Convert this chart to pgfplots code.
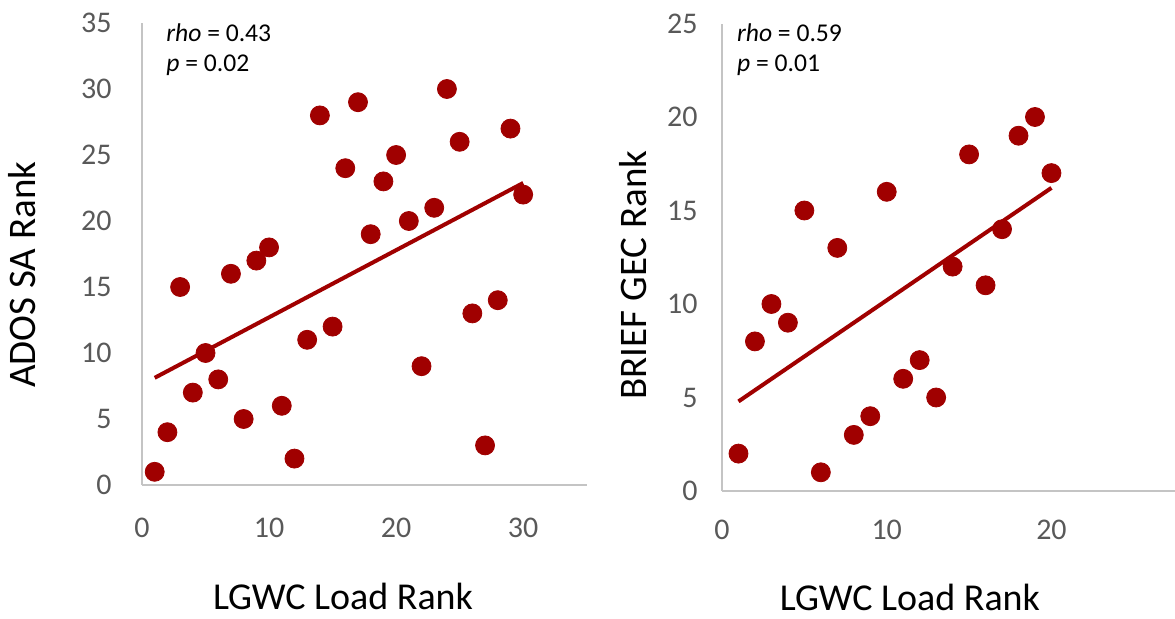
\documentclass[border=0pt]{standalone}
\usepackage{fontspec}
\setmainfont{Carlito}
\usepackage{pgfplots}
\pgfplotsset{compat=1.18}
\definecolor{dred}{HTML}{A00000}
\definecolor{axgray}{HTML}{C4C4C4}
\definecolor{tickgray}{HTML}{595959}
\pgfplotsset{mystyle/.style={
  scale only axis, anchor=south west,
  axis x line*=bottom, axis y line*=left,
  axis line style={axgray, line width=1.2bp, -},
  major tick length=0pt,
  tick label style={font=\fontsize{15bp}{16bp}\selectfont, color=tickgray, inner sep=0pt},
  /pgf/number format/assume math mode=true,
  yticklabel style={anchor=east, xshift=-#1},
  label style={color=black, inner sep=0pt},
  clip=false,
}}
\begin{document}
\begin{tikzpicture}
\path[use as bounding box] (0,0) rectangle (587.5bp,309.5bp);
\begin{axis}[mystyle=15bp,
  at={(71bp,67bp)}, width=222.35bp, height=231bp,
  xmin=0, xmax=35, ymin=0, ymax=35,
  xtick={0,10,20,30}, ytick={0,5,...,35},
  xticklabel style={anchor=center, yshift=-21.5bp},
  xlabel={LGWC Load Rank}, ylabel={ADOS SA Rank},
  xlabel style={at={(axis description cs:0.452,-0.242)}, anchor=center, font=\fontsize{19bp}{22bp}\selectfont},
  ylabel style={at={(axis description cs:-0.269,0.455)}, anchor=center, font=\fontsize{19.5bp}{22bp}\selectfont},
]
\addplot[only marks, mark=*, mark size=4.75bp, mark options={draw=dred, fill=dred}] coordinates {
(1,1) (2,4) (3,15) (4,7) (5,10) (6,8) (7,16) (8,5) (9,17) (10,18)
(11,6) (12,2) (13,11) (14,28) (15,12) (16,24) (17,29) (18,19) (19,23) (20,25)
(21,20) (22,9) (23,21) (24,30) (25,26) (26,13) (27,3) (28,14) (29,27) (30,22)
};
\addplot[dred, line width=2bp, no marks] coordinates {(1,8.12) (30,22.88)};
\node[anchor=west, inner sep=0pt, font=\fontsize{12.8bp}{14bp}\selectfont] at (axis description cs:0.054,0.978) {\textit{rho} = 0.43};
\node[anchor=west, inner sep=0pt, font=\fontsize{12.8bp}{14bp}\selectfont] at (axis description cs:0.054,0.909) {\textit{p} = 0.02};
\end{axis}
\begin{axis}[mystyle=12bp,
  at={(361bp,64bp)}, width=226.5bp, height=233.75bp,
  xmin=0, xmax=27.5, ymin=0, ymax=25,
  xtick={0,10,20}, ytick={0,5,...,25},
  xticklabel style={anchor=center, yshift=-19.5bp},
  xlabel={LGWC Load Rank}, ylabel={BRIEF GEC Rank},
  xlabel style={at={(axis description cs:0.415,-0.227)}, anchor=center, font=\fontsize{19bp}{22bp}\selectfont},
  ylabel style={at={(axis description cs:-0.196,0.462)}, anchor=center, font=\fontsize{19.5bp}{22bp}\selectfont},
]
\addplot[only marks, mark=*, mark size=4.75bp, mark options={draw=dred, fill=dred}] coordinates {
(1,2) (2,8) (3,10) (4,9) (5,15) (6,1) (7,13) (8,3) (9,4) (10,16)
(11,6) (12,7) (13,5) (14,12) (15,18) (16,11) (17,14) (18,19) (19,20) (20,17)
};
\addplot[dred, line width=2bp, no marks] coordinates {(1,4.79) (20,16.21)};
\node[anchor=west, inner sep=0pt, font=\fontsize{12.8bp}{14bp}\selectfont] at (axis description cs:0.0325,0.98) {\textit{rho} = 0.59};
\node[anchor=west, inner sep=0pt, font=\fontsize{12.8bp}{14bp}\selectfont] at (axis description cs:0.0325,0.911) {\textit{p} = 0.01};
\end{axis}
\end{tikzpicture}
\end{document}
